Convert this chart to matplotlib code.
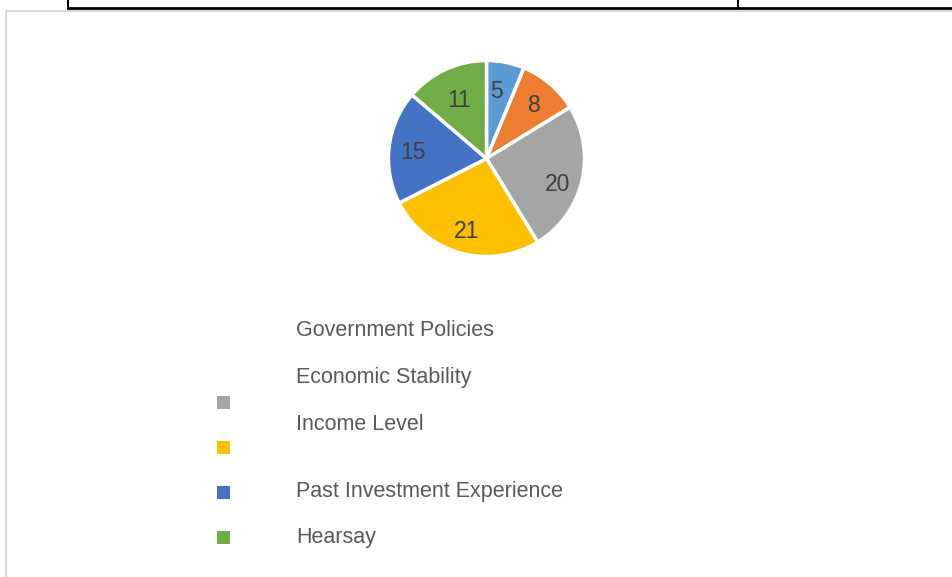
import matplotlib.pyplot as plt
from matplotlib.patches import Rectangle
from matplotlib.lines import Line2D

# datos del gráfico
valores = [5, 8, 20, 21, 15, 11]
colores = ['#5B9BD5', '#ED7D31', '#A5A5A5', '#FFC000', '#4472C4', '#70AD47']
etiquetas = ['Government Policies', 'Economic Stability', 'Income Level',
             'Past Investment Experience', 'Hearsay']

W, H = 953, 577
plt.rcParams['font.family'] = ['Liberation Sans', 'DejaVu Sans']
fig = plt.figure(figsize=(W / 100, H / 100), dpi=100)

# pasa pixeles (origen arriba a la izquierda) a fraccion de figura
def px(x, y):
    return x / W, 1 - y / H

# borde de la tabla de arriba
fig.add_artist(Line2D([68 / W, 1], [px(0, 8)[1]] * 2, color='black', lw=2))
for xv in (68, 738):
    fig.add_artist(Line2D([xv / W] * 2, [px(0, 0)[1], px(0, 8)[1]], color='black', lw=1.5))

# marco del area del grafico
fig.add_artist(Rectangle(px(6, 600), 1.0, (600 - 11) / H, fill=False,
                         edgecolor='#D9D9D9', lw=1.5, transform=fig.transFigure))

# pastel
cx, cy, r = 486.5, 158.5, 99
ax = fig.add_axes([(cx - r) / W, 1 - (cy + r) / H, 2 * r / W, 2 * r / H])
wedges, textos = ax.pie(valores, colors=colores, startangle=90, counterclock=False,
                        labels=[str(v) for v in valores], labeldistance=0.75,
                        wedgeprops=dict(edgecolor='white', linewidth=2.5),
                        textprops=dict(fontsize=16.5, color='#404040'))
ax.set_xlim(-1.01, 1.01)
ax.set_ylim(-1.01, 1.01)
ax.set_aspect('equal')
for t in textos:
    t.set_ha('center')
    t.set_va('center_baseline')
textos[0].set_position((0.1, 0.71))
x, y = textos[5].get_position()
textos[5].set_position((x * 0.9, y * 0.9))
x, y = textos[2].get_position()
textos[2].set_position((x, y - 0.06))

# leyenda
ys_texto = [330, 377, 424, 491, 537]
for et, y in zip(etiquetas, ys_texto):
    fig.text(296 / W, px(0, y)[1], et, fontsize=15.5, color='#595959',
             ha='left', va='center')

ys_marca = [402.5, 447, 492, 537.5]
for col, y in zip(colores[2:], ys_marca):
    x0, y0 = px(217, y + 6.5)
    fig.add_artist(Rectangle((x0, y0), 13 / W, 13 / H, facecolor=col,
                             edgecolor='none', transform=fig.transFigure))

plt.savefig('out.png', dpi=100)
